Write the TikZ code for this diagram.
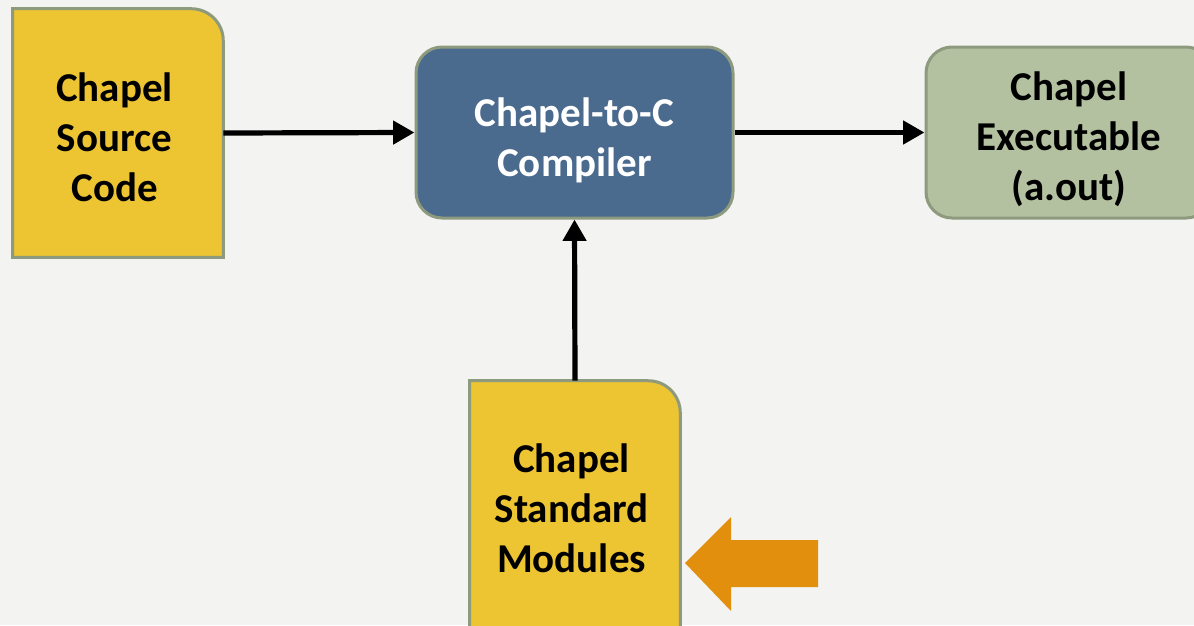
\documentclass[tikz,border=0pt]{standalone}
\usepackage{fontspec}
\setmainfont{Carlito}
\usetikzlibrary{arrows.meta,backgrounds}
\definecolor{bgc}{HTML}{F3F3F1}
\definecolor{yel}{HTML}{EDC432}
\definecolor{blu}{HTML}{4A6A8E}
\definecolor{grn}{HTML}{B4C1A0}
\definecolor{brd}{HTML}{8D9A7D}
\definecolor{org}{HTML}{E38F0E}
\tikzset{
  lbl/.style={align=center, inner sep=0pt, font=\bfseries\fontsize{30.75}{37.5}\selectfont},
  docbox/.style={fill=yel, draw=brd, line width=2.25pt},
  roundbox/.style={draw=brd, line width=2.25pt, rounded corners=19.5pt},
  conn/.style={line width=3.9pt, -{Triangle[length=16pt,width=17pt]}},
}
\begin{document}
\begin{tikzpicture}[x=0.75pt,y=-0.75pt]
\useasboundingbox (0,0) rectangle (1194,625);
\node[minimum width=157.5pt, minimum height=186pt,
  label={[lbl,yshift=-3pt,xshift=-2.6pt]center:{Chapel\\Source\\Code}}] (src) at (118,133) {};
\node[roundbox, fill=blu, minimum width=237.75pt, minimum height=128.25pt,
  label={[lbl,text=white,yshift=-5.6pt]center:{Chapel-to-C\\Compiler}}] (comp) at (574.5,132.5) {};
\node[roundbox, fill=grn, minimum width=214.5pt, minimum height=128.25pt,
  label={[lbl,yshift=-4.9pt]center:{Chapel\\Executable\\(a.out)}}] (exe) at (1069,132.5) {};
\node[minimum width=157.5pt, minimum height=192pt,
  label={[lbl,yshift=0.5pt,xshift=-2.6pt]center:{Chapel\\Standard\\Modules}}] (mod) at (575,509) {};
\begin{scope}[on background layer]
  \fill[bgc] (0,0) rectangle (1194,625);
  \path[docbox] (src.south west) -- (src.north west) -- ([xshift=-24pt]src.north east) arc[start angle=90,end angle=0,radius=24pt] -- (src.south east) -- cycle;
  \path[docbox] (mod.south west) -- (mod.north west) -- ([xshift=-24pt]mod.north east) arc[start angle=90,end angle=0,radius=24pt] -- (mod.south east) -- cycle;
\end{scope}
\draw[conn] (src.east) -- (comp.west);
\draw[conn] (comp.east) -- (exe.west);
\draw[conn] (mod.north) -- (comp.south);
\fill[org] (685,563) -- (731,517) -- (731,540) -- (818,540) -- (818,587) -- (731,587) -- (731,611) -- cycle;
\end{tikzpicture}
\end{document}
